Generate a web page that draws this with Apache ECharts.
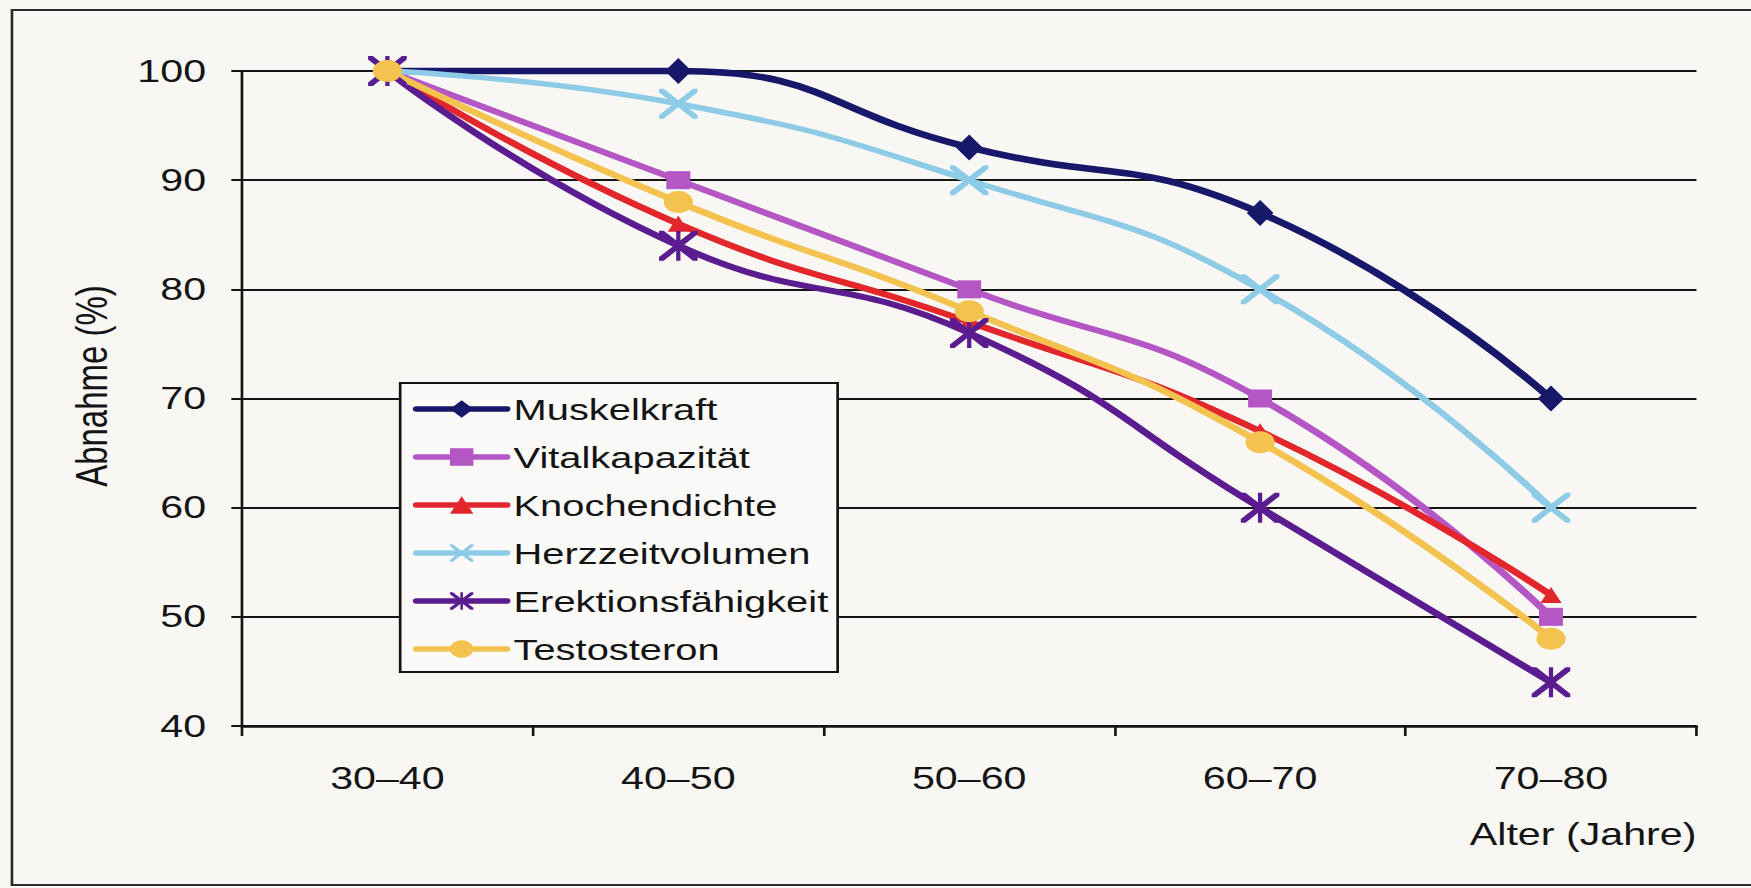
<!DOCTYPE html>
<html lang="de">
<head>
<meta charset="utf-8">
<title>Abnahme körperlicher Funktionen mit dem Alter</title>
<script src="https://cdn.jsdelivr.net/npm/echarts@6/dist/echarts.min.js"></script>
<style>
  html, body { margin: 0; padding: 0; background: #f8f7f4; overflow: hidden; }
  /* the figure is laid out on a narrower canvas and widened horizontally */
  #chart {
    width: 1317px;
    height: 888px;
    transform: scaleX(1.3295);
    transform-origin: 0 0;
  }
</style>
</head>
<body>
<div id="chart"></div>
<script>
// Altersgruppen (x-Achse)
const categories = ['30–40', '40–50', '50–60', '60–70', '70–80'];

// Verbleibender Anteil in Prozent je Altersgruppe
const muskelkraft         = [100, 100, 93, 87, 70];
const vitalkapazitaet     = [100, 90, 80, 70, 50];
const knochendichte       = [100, 86, 77, 67, 52];
const herzzeitvolumen     = [100, 97, 90, 80, 60];
const erektionsfaehigkeit = [100, 84, 76, 60, 44];
const testosteron         = [100, 88, 78, 66, 48];

// y-Achse
const yMin = 40;
const yMax = 100;
const yStep = 10;

const FONT = '"Liberation Sans", Arial, Helvetica, sans-serif';
const INK = '#141414';

// marker shapes
const crossPath = 'path://M0,0 L1.2,0 L5,3.8 L8.8,0 L10,0 L10,1.2 L6.2,5 L10,8.8 L10,10 L8.8,10 L5,6.2 L1.2,10 L0,10 L0,8.8 L3.8,5 L0,1.2 Z';
const asteriskPath = crossPath + ' M4.45,0 L5.55,0 L5.55,10 L4.45,10 Z';

function lineSeries(name, data, color, symbol, symbolSize, width) {
  return {
    name: name,
    type: 'line',
    data: data,
    smooth: 0.5,
    clip: false,
    symbol: symbol,
    symbolSize: symbolSize,
    showAllSymbol: true,
    lineStyle: { color: color, width: width, cap: 'round', join: 'round' },
    itemStyle: { color: color, borderWidth: 0 },
    emphasis: { disabled: true }
  };
}

const chart = echarts.init(document.getElementById('chart'), null, { renderer: 'svg' });

chart.setOption({
  animation: false,
  backgroundColor: 'transparent',
  textStyle: { fontFamily: FONT },
  grid: { left: 182, right: 41, top: 71, bottom: 162, containLabel: false },
  legend: {
    orient: 'vertical',
    left: 301,
    top: 383,
    padding: [11, 7, 8, 9.5],
    borderColor: INK,
    borderWidth: 2,
    backgroundColor: '#fbfaf8',
    itemWidth: 68,
    itemHeight: 22,
    itemGap: 18,
    selectedMode: false,
    lineStyle: { width: 5.5 },
    textStyle: { fontFamily: FONT, fontSize: 30, lineHeight: 30, color: INK },
    data: ['Muskelkraft', 'Vitalkapazität', 'Knochendichte', 'Herzzeitvolumen', 'Erektionsfähigkeit', 'Testosteron']
  },
  xAxis: {
    type: 'category',
    data: categories,
    boundaryGap: true,
    axisLine: { show: true, lineStyle: { color: INK, width: 2.5 } },
    axisTick: { show: true, length: 10, lineStyle: { color: INK, width: 2 } },
    axisLabel: { fontFamily: FONT, fontSize: 31, color: INK, margin: 37 },
    splitLine: { show: false }
  },
  yAxis: {
    type: 'value',
    min: yMin,
    max: yMax,
    interval: yStep,
    axisLine: { show: true, lineStyle: { color: INK, width: 2 } },
    axisTick: { show: true, length: 8, lineStyle: { color: INK, width: 2 } },
    axisLabel: { fontFamily: FONT, fontSize: 31, color: INK, margin: 27 },
    splitLine: { show: true, lineStyle: { color: INK, width: 2 } }
  },
  graphic: [
    {
      type: 'rect',
      silent: true,
      z: -1,
      shape: { x: 9, y: 10, width: 1330, height: 875 },
      style: { fill: 'none', stroke: '#2a2a2a', lineWidth: 2 }
    },
    {
      type: 'text',
      silent: true,
      x: 69,
      y: 386,
      rotation: Math.PI / 2,
      style: {
        text: 'Abnahme (%)',
        font: '33px ' + FONT,
        fill: INK,
        align: 'center',
        verticalAlign: 'middle'
      }
    },
    {
      type: 'text',
      silent: true,
      x: 1276,
      y: 834,
      style: {
        text: 'Alter (Jahre)',
        font: '31px ' + FONT,
        fill: INK,
        align: 'right',
        verticalAlign: 'middle'
      }
    }
  ],
  series: [
    lineSeries('Muskelkraft', muskelkraft, '#17186a', 'diamond', [20, 26], 6.5),
    lineSeries('Vitalkapazität', vitalkapazitaet, '#b456c4', 'rect', 18, 6),
    lineSeries('Knochendichte', knochendichte, '#e2262c', 'triangle', 16, 6),
    lineSeries('Herzzeitvolumen', herzzeitvolumen, '#8ecbe6', crossPath, [29, 30], 5.5),
    lineSeries('Erektionsfähigkeit', erektionsfaehigkeit, '#5a1c8e', asteriskPath, [29, 30], 6),
    lineSeries('Testosteron', testosteron, '#f4c24e', 'circle', 22, 6)
  ]
});
</script>
</body>
</html>
